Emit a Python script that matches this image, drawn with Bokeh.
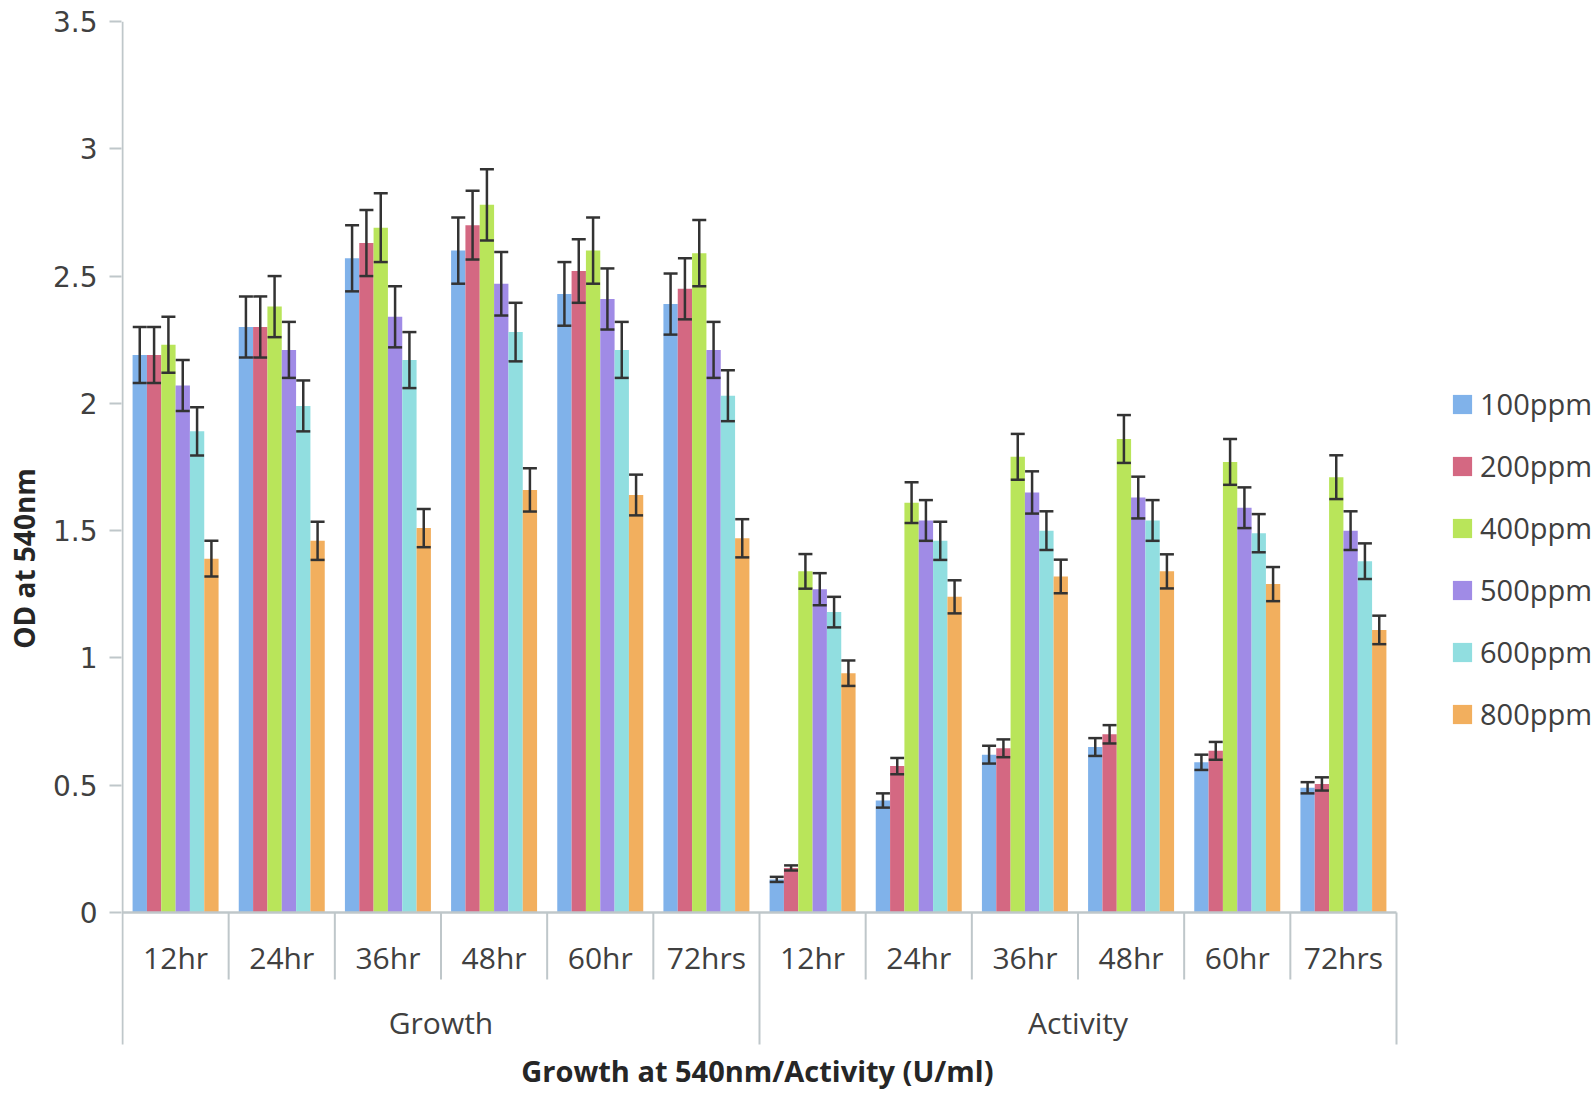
import numpy as np
from bokeh.plotting import figure
from bokeh.models import (ColumnDataSource, FixedTicker, Range1d, Legend, LegendItem,
                          CustomJSTickFormatter)
from bokeh.core.properties import value
from bokeh.embed import file_html
from bokeh.resources import INLINE

# ---------------- data ----------------
groups = ["Growth", "Activity"]
times = ["12hr", "24hr", "36hr", "48hr", "60hr", "72hrs"]
series = ["100ppm", "200ppm", "400ppm", "500ppm", "600ppm", "800ppm"]
colors = ["#80B2EA", "#D46882", "#B9E55A", "#A08BE6", "#91DEE0", "#F2AF5E"]

growth_100 = [2.19, 2.30, 2.57, 2.60, 2.43, 2.39]
growth_200 = [2.19, 2.30, 2.63, 2.70, 2.52, 2.45]
growth_400 = [2.23, 2.38, 2.69, 2.78, 2.60, 2.59]
growth_500 = [2.07, 2.21, 2.34, 2.47, 2.41, 2.21]
growth_600 = [1.89, 1.99, 2.17, 2.28, 2.21, 2.03]
growth_800 = [1.39, 1.46, 1.51, 1.66, 1.64, 1.47]

growth_err_100 = [0.110, 0.120, 0.130, 0.130, 0.125, 0.120]
growth_err_200 = [0.110, 0.120, 0.130, 0.135, 0.125, 0.120]
growth_err_400 = [0.110, 0.120, 0.135, 0.140, 0.130, 0.130]
growth_err_500 = [0.100, 0.110, 0.120, 0.125, 0.120, 0.110]
growth_err_600 = [0.095, 0.100, 0.110, 0.115, 0.110, 0.100]
growth_err_800 = [0.070, 0.075, 0.075, 0.085, 0.080, 0.075]

activity_100 = [0.13, 0.44, 0.62, 0.65, 0.59, 0.49]
activity_200 = [0.175, 0.575, 0.645, 0.70, 0.635, 0.505]
activity_400 = [1.34, 1.61, 1.79, 1.86, 1.77, 1.71]
activity_500 = [1.27, 1.54, 1.65, 1.63, 1.59, 1.50]
activity_600 = [1.18, 1.46, 1.50, 1.54, 1.49, 1.38]
activity_800 = [0.94, 1.24, 1.32, 1.34, 1.29, 1.11]

activity_err_100 = [0.010, 0.028, 0.035, 0.035, 0.030, 0.022]
activity_err_200 = [0.010, 0.032, 0.035, 0.036, 0.035, 0.026]
activity_err_400 = [0.068, 0.080, 0.090, 0.094, 0.090, 0.086]
activity_err_500 = [0.063, 0.080, 0.083, 0.082, 0.080, 0.076]
activity_err_600 = [0.060, 0.075, 0.076, 0.080, 0.075, 0.070]
activity_err_800 = [0.050, 0.065, 0.066, 0.067, 0.067, 0.056]

y_ticks = [0, 0.5, 1, 1.5, 2, 2.5, 3, 3.5]

means = [growth_100 + activity_100, growth_200 + activity_200, growth_400 + activity_400,
         growth_500 + activity_500, growth_600 + activity_600, growth_800 + activity_800]
errs = [growth_err_100 + activity_err_100, growth_err_200 + activity_err_200,
        growth_err_400 + activity_err_400, growth_err_500 + activity_err_500,
        growth_err_600 + activity_err_600, growth_err_800 + activity_err_800]
cat_labels = times + times
n_cat = len(cat_labels)

# ---------------- layout (page pixels) ----------------
W, H = 1594, 1095
frame_left, frame_top = 121, 21
px_x = (1396 - 122) / n_cat
x_start = -(122 - frame_left) / px_x
x_end = x_start + (W - frame_left) / px_x
px_y = (912 - 21) / 3.5
y_top = 3.5
y_bottom = -(H - 912) / px_y


def ydat(py):
    return -(py - 912) / px_y


axis_grey = "#BFC7CA"
text_col = "#404040"
err_col = "#333333"

p = figure(width=W, height=H, output_backend="svg", toolbar_location=None,
           x_range=Range1d(x_start, x_end), y_range=Range1d(y_bottom, y_top),
           x_axis_location=None, min_border_left=frame_left, min_border_right=0,
           min_border_top=frame_top, min_border_bottom=0)
p.outline_line_color = None
p.xgrid.visible = False
p.ygrid.visible = False
p.background_fill_color = "white"
p.border_fill_color = "white"

ax = p.yaxis[0]
ax.ticker = FixedTicker(ticks=y_ticks, minor_ticks=[])
ax.formatter = CustomJSTickFormatter(code="return tick.toString()")
ax.axis_line_color = None
ax.major_tick_line_color = axis_grey
ax.major_tick_line_width = 2
ax.major_tick_out = 12
ax.major_tick_in = 0
ax.minor_tick_line_color = None
ax.major_label_text_font = "DejaVu Sans"
ax.major_label_text_font_size = "28px"
ax.major_label_text_color = text_col
ax.major_label_standoff = 12
ax.axis_label = "OD at 540nm"
ax.axis_label_text_font = "Open Sans"
ax.axis_label_text_font_style = "bold"
ax.axis_label_text_font_size = "28px"
ax.axis_label_text_color = "#262626"
ax.axis_label_standoff = 7

# vertical axis line (stops at the bottom of the category separators)
p.segment(x0=[0], y0=[ydat(1044)], x1=[0], y1=[y_top], line_color=axis_grey, line_width=2)

bar_w = 0.135
cap = 7 / px_x
centers = np.arange(n_cat) + 0.5
legend_items = []
for i, (name, col) in enumerate(zip(series, colors)):
    xs = centers + (i - 2.5) * bar_w
    m = np.array(means[i])
    e = np.array(errs[i])
    src = ColumnDataSource(dict(x=xs, top=m, lo=m - e, hi=m + e,
                                xl=xs - cap, xr=xs + cap))
    r = p.vbar(x="x", top="top", bottom=0, width=bar_w, source=src,
               fill_color=col, line_color=None)
    p.segment(x0="x", y0="lo", x1="x", y1="hi", source=src, line_color=err_col, line_width=2.5)
    p.segment(x0="xl", y0="hi", x1="xr", y1="hi", source=src, line_color=err_col, line_width=2.5)
    p.segment(x0="xl", y0="lo", x1="xr", y1="lo", source=src, line_color=err_col, line_width=2.5)
    legend_items.append(LegendItem(label=name, renderers=[r]))

# category axis
p.segment(x0=[0], y0=[0], x1=[n_cat], y1=[0], line_color=axis_grey, line_width=2.5)
sep_small = [k for k in range(1, n_cat) if k != len(times)]
p.segment(x0=sep_small, y0=[0] * len(sep_small), x1=sep_small,
          y1=[ydat(979)] * len(sep_small), line_color=axis_grey, line_width=2)
sep_big = [len(times), n_cat]
p.segment(x0=sep_big, y0=[0, 0], x1=sep_big, y1=[ydat(1044)] * 2,
          line_color=axis_grey, line_width=2)

p.text(x=centers, y=[ydat(957)] * n_cat, text=cat_labels,
       text_align="center", text_baseline="middle", text_font=value("Open Sans"),
       text_font_size="30px", text_color=text_col)
p.text(x=[len(times) / 2, len(times) * 1.5], y=[ydat(1022)] * 2, text=groups,
       text_align="center", text_baseline="middle", text_font=value("Open Sans"),
       text_font_size="30px", text_color=text_col)
p.text(x=[n_cat / 2 - 0.02], y=[ydat(1070)], text=["Growth at 540nm/Activity (U/ml)"],
       text_align="center", text_baseline="middle", text_font=value("Open Sans"),
       text_font_style="bold", text_font_size="29px", text_color="#262626")

legend = Legend(items=legend_items, location=(1450 - frame_left, 361),
                glyph_width=24, glyph_height=24, label_height=41, label_standoff=6,
                spacing=21, padding=0, margin=0, border_line_color=None,
                background_fill_alpha=0, label_text_font="Open Sans",
                label_text_font_size="29px", label_text_color=text_col)
p.add_layout(legend)

open("out.html", "w").write(file_html(p, INLINE))
